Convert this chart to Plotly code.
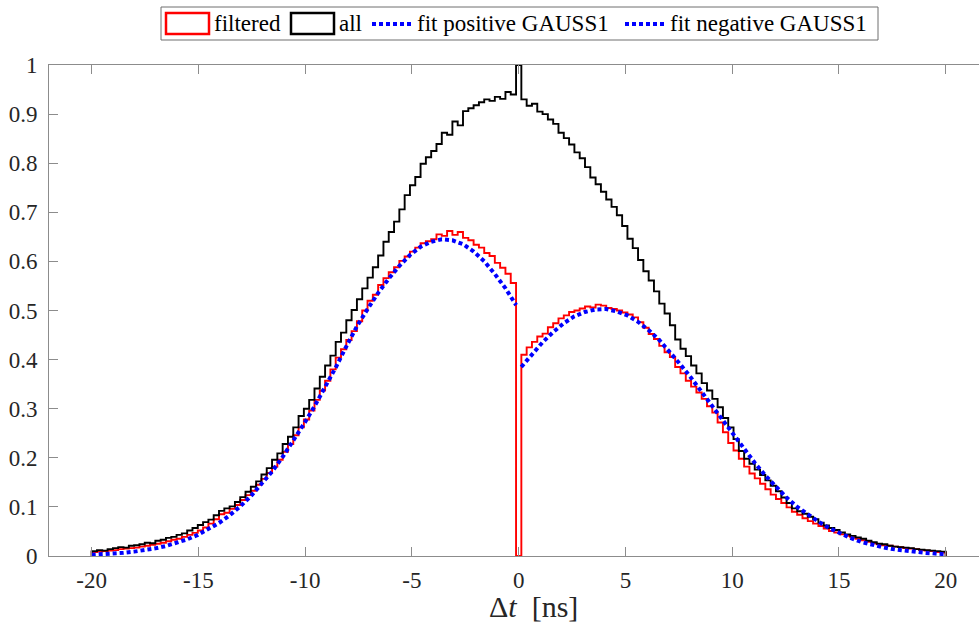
import numpy as np
import plotly.graph_objects as go

# ---------------- data ----------------
# normalised histogram counts, 161 equal bins spanning -20 .. 20 ns
hist_range = (-20.0, 20.0)

all_counts = [
    0.010, 0.012, 0.011, 0.014, 0.016, 0.018, 0.017, 0.021,
    0.022, 0.024, 0.027, 0.026, 0.031, 0.033, 0.037, 0.039,
    0.043, 0.046, 0.052, 0.057, 0.063, 0.069, 0.074, 0.083,
    0.092, 0.097, 0.101, 0.110, 0.120, 0.131, 0.141, 0.152,
    0.166, 0.179, 0.196, 0.209, 0.228, 0.243, 0.262, 0.285,
    0.300, 0.318, 0.341, 0.365, 0.388, 0.408, 0.436, 0.455,
    0.480, 0.501, 0.523, 0.545, 0.567, 0.588, 0.612, 0.640,
    0.660, 0.681, 0.706, 0.735, 0.755, 0.772, 0.799, 0.812,
    0.825, 0.839, 0.862, 0.858, 0.885, 0.877, 0.906, 0.912,
    0.918, 0.924, 0.930, 0.927, 0.935, 0.931, 0.945, 0.940,
    1.000, 0.930, 0.917, 0.921, 0.905, 0.900, 0.889, 0.880,
    0.862, 0.851, 0.838, 0.822, 0.810, 0.792, 0.771, 0.757,
    0.742, 0.726, 0.711, 0.694, 0.672, 0.646, 0.627, 0.603,
    0.580, 0.561, 0.539, 0.514, 0.494, 0.470, 0.441, 0.422,
    0.407, 0.388, 0.372, 0.352, 0.337, 0.320, 0.303, 0.281,
    0.262, 0.238, 0.214, 0.198, 0.188, 0.176, 0.165, 0.154,
    0.143, 0.132, 0.119, 0.108, 0.097, 0.091, 0.086, 0.080,
    0.075, 0.068, 0.062, 0.057, 0.053, 0.048, 0.044, 0.041,
    0.038, 0.035, 0.031, 0.028, 0.025, 0.024, 0.021, 0.019,
    0.018, 0.017, 0.016, 0.014, 0.013, 0.012, 0.011, 0.010,
    0.009,
]

filtered_counts = [
    0.008, 0.009, 0.010, 0.011, 0.012, 0.014, 0.015, 0.016,
    0.017, 0.019, 0.021, 0.023, 0.025, 0.027, 0.030, 0.033,
    0.035, 0.039, 0.043, 0.047, 0.052, 0.058, 0.066, 0.075,
    0.085, 0.088, 0.096, 0.104, 0.114, 0.124, 0.133, 0.145,
    0.157, 0.169, 0.182, 0.196, 0.212, 0.228, 0.246, 0.262,
    0.278, 0.296, 0.318, 0.337, 0.357, 0.380, 0.404, 0.421,
    0.440, 0.458, 0.478, 0.500, 0.520, 0.532, 0.552, 0.566,
    0.578, 0.588, 0.601, 0.610, 0.620, 0.628, 0.637, 0.641,
    0.645, 0.655, 0.652, 0.662, 0.654, 0.660, 0.648, 0.643,
    0.634, 0.628, 0.617, 0.611, 0.597, 0.587, 0.575, 0.556,
    0.000, 0.410, 0.425, 0.436, 0.447, 0.453, 0.466, 0.474,
    0.484, 0.490, 0.497, 0.500, 0.504, 0.508, 0.506, 0.512,
    0.510, 0.505, 0.503, 0.500, 0.496, 0.492, 0.486, 0.476,
    0.465, 0.452, 0.442, 0.428, 0.415, 0.405, 0.385, 0.372,
    0.357, 0.345, 0.333, 0.320, 0.305, 0.292, 0.272, 0.252,
    0.230, 0.215, 0.198, 0.182, 0.168, 0.158, 0.147, 0.136,
    0.125, 0.116, 0.108, 0.099, 0.090, 0.084, 0.077, 0.071,
    0.066, 0.061, 0.056, 0.051, 0.048, 0.044, 0.041, 0.038,
    0.035, 0.032, 0.029, 0.026, 0.024, 0.022, 0.021, 0.019,
    0.018, 0.016, 0.015, 0.014, 0.012, 0.011, 0.010, 0.008,
    0.007,
]

# GAUSS1 fits, evaluated every 0.5 ns on each side of zero
fit_neg_t = np.linspace(-20.0, -0.12, 41)
fit_neg_vals = [
    0.0025, 0.0035, 0.0048, 0.0066, 0.0089, 0.0118, 0.0156, 0.0204,
    0.0265, 0.0339, 0.0430, 0.0541, 0.0673, 0.0829, 0.101, 0.122,
    0.146, 0.172, 0.202, 0.234, 0.269, 0.305, 0.343, 0.384,
    0.427, 0.468, 0.503, 0.536, 0.565, 0.591, 0.613, 0.630,
    0.640, 0.645, 0.643, 0.635, 0.620, 0.600, 0.574, 0.545,
    0.511,
]
fit_pos_t = np.linspace(0.12, 20.0, 41)
fit_pos_vals = [
    0.385, 0.411, 0.435, 0.456, 0.474, 0.488, 0.497, 0.502,
    0.503, 0.498, 0.490, 0.477, 0.460, 0.440, 0.416, 0.390,
    0.363, 0.334, 0.305, 0.276, 0.247, 0.218, 0.190, 0.164,
    0.140, 0.119, 0.100, 0.084, 0.070, 0.057, 0.046, 0.037,
    0.029, 0.023, 0.018, 0.014, 0.011, 0.0085, 0.0065, 0.005,
    0.0035,
]

x_tick_vals = [-20, -15, -10, -5, 0, 5, 10, 15, 20]
x_tick_text = ["-20", "-15", "-10", "-5", "0", "5", "10", "15", "20"]
y_tick_vals = [0, 0.1, 0.2, 0.3, 0.4, 0.5, 0.6, 0.7, 0.8, 0.9, 1]
y_tick_text = ["0", "0.1", "0.2", "0.3", "0.4", "0.5", "0.6", "0.7", "0.8", "0.9", "1"]

legend_labels = ["filtered", "all", "fit positive GAUSS1", "fit negative GAUSS1"]
x_title = "Δ<i>t</i>\u2002[ns]"

# ---------------- styling ----------------
W, H = 979, 622
M_L, M_R, M_T, M_B = 49, 0, 65, 66
FONT = "'Liberation Serif', 'Times New Roman', Tinos, 'DejaVu Serif', serif"
AXIS_GREY = "#8c8c8c"
TEXT_COL = "#262626"
RED, BLACK, BLUE = "#ff0000", "#000000", "#0000ff"
DOTS = "4px,3px"

edges = np.linspace(hist_range[0], hist_range[1], len(all_counts) + 1)


def stairs(vals):
    """Outline of a histogram (stairs), closed down to zero at both ends."""
    vals = np.asarray(vals, dtype=float)
    xs = np.concatenate([[edges[0]], edges[:-1], [edges[-1], edges[-1]]])
    ys = np.concatenate([[0.0], vals, [vals[-1], 0.0]])
    return xs, ys


fig = go.Figure()

fx, fy = stairs(filtered_counts)
fig.add_trace(go.Scatter(x=fx, y=fy, mode="lines", line_shape="hv",
                         line=dict(color=RED, width=1.9), name=legend_labels[0]))
ax_, ay_ = stairs(all_counts)
fig.add_trace(go.Scatter(x=ax_, y=ay_, mode="lines", line_shape="hv",
                         line=dict(color=BLACK, width=1.9), name=legend_labels[1]))
fig.add_trace(go.Scatter(x=fit_pos_t, y=fit_pos_vals, mode="lines",
                         line=dict(color=BLUE, width=4, dash=DOTS), name=legend_labels[2]))
fig.add_trace(go.Scatter(x=fit_neg_t, y=fit_neg_vals, mode="lines",
                         line=dict(color=BLUE, width=4, dash=DOTS), name=legend_labels[3]))

plot_w = W - M_L - M_R
plot_h = H - M_T - M_B
px_per_ns = (946 - 92) / 40.0
x_lo = -22.0
x_hi = x_lo + plot_w / px_per_ns


def px(xp):
    return (xp - M_L) / plot_w


def py(yp):
    return (H - M_B - yp) / plot_h


# legend drawn as a framed box of swatches and labels
shapes = [
    dict(type="rect", xref="paper", yref="paper", x0=px(161), x1=px(878), y0=py(40), y1=py(7),
         line=dict(color="#6e6e6e", width=1), fillcolor="white", layer="above"),
    dict(type="rect", xref="paper", yref="paper", x0=px(166), x1=px(209), y0=py(34), y1=py(13),
         line=dict(color=RED, width=2.5), layer="above"),
    dict(type="rect", xref="paper", yref="paper", x0=px(291), x1=px(334), y0=py(34), y1=py(13),
         line=dict(color=BLACK, width=2.5), layer="above"),
    dict(type="line", xref="paper", yref="paper", x0=px(372), x1=px(411), y0=py(24), y1=py(24),
         line=dict(color=BLUE, width=4, dash=DOTS), layer="above"),
    dict(type="line", xref="paper", yref="paper", x0=px(625), x1=px(664), y0=py(24), y1=py(24),
         line=dict(color=BLUE, width=4, dash=DOTS), layer="above"),
]
annotations = []
for label, xl in zip(legend_labels, [212, 337, 415, 668]):
    annotations.append(dict(text=label, xref="paper", yref="paper", x=px(xl), y=py(24),
                            xanchor="left", yanchor="middle", showarrow=False,
                            font=dict(family=FONT, size=23, color=BLACK)))
annotations.append(dict(text=x_title, xref="paper", yref="paper", x=px(533), y=py(606),
                        xanchor="center", yanchor="middle", showarrow=False,
                        font=dict(family=FONT, size=30, color=TEXT_COL)))

fig.update_layout(
    width=W, height=H,
    margin=dict(l=M_L, r=M_R, t=M_T, b=M_B),
    paper_bgcolor="white", plot_bgcolor="white",
    showlegend=False,
    shapes=shapes,
    annotations=annotations,
    font=dict(family=FONT, size=23, color=TEXT_COL),
)
fig.update_xaxes(
    range=[x_lo, x_hi], tickvals=x_tick_vals, ticktext=x_tick_text,
    showline=True, linecolor=AXIS_GREY, linewidth=1, mirror="allticks",
    ticks="inside", ticklen=9, tickcolor=AXIS_GREY, tickwidth=1,
    showgrid=False, zeroline=False, ticklabelstandoff=3,
    tickfont=dict(family=FONT, size=23, color=TEXT_COL),
)
fig.update_yaxes(
    range=[0, 1], tickvals=y_tick_vals, ticktext=y_tick_text,
    showline=True, linecolor=AXIS_GREY, linewidth=1, mirror=False,
    ticks="inside", ticklen=9, tickcolor=AXIS_GREY, tickwidth=1,
    showgrid=False, zeroline=False, ticklabelstandoff=6,
    tickfont=dict(family=FONT, size=23, color=TEXT_COL),
)

fig.write_html("out.html")
